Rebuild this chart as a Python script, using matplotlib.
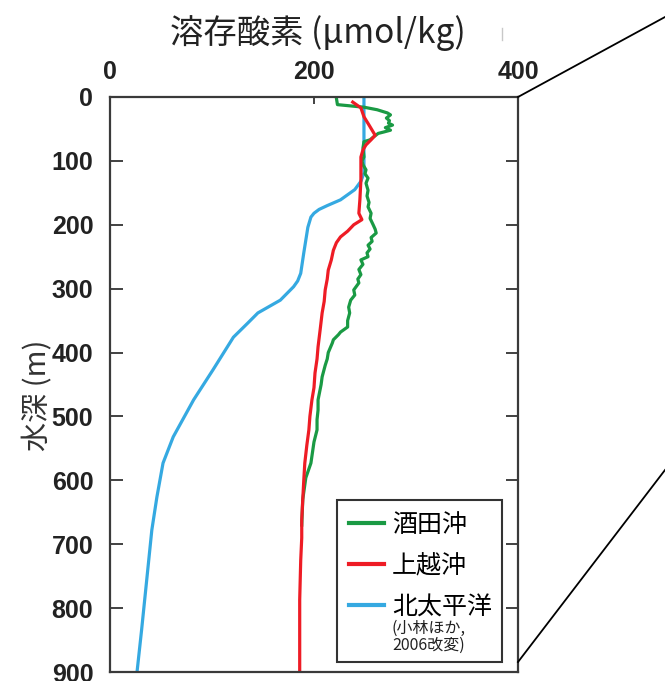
import matplotlib
matplotlib.use("Agg")
import matplotlib.pyplot as plt
from matplotlib.lines import Line2D
from matplotlib.patches import Rectangle

plt.rcParams['font.family'] = ['Noto Sans CJK JP', 'DejaVu Sans']

# Dissolved oxygen profiles: (oxygen µmol/kg, depth m)
sakata_o2 = [222, 222, 223, 236, 249, 262, 272, 275, 271, 274, 273, 277, 270, 275, 268, 263,
             258, 255, 249, 248, 249, 247, 248, 251, 250, 253, 251, 253, 252, 254, 253, 256,
             255, 258, 260, 261, 256, 257, 253, 255, 252, 253, 246, 248, 244, 246, 243, 244,
             239, 240, 236, 234, 235, 233, 233, 226, 224, 219, 218, 214, 213, 211, 208, 207,
             204, 204, 203, 203, 200, 197, 192, 189, 188]
sakata_depth = [0, 2, 12, 14, 16, 20, 25, 28, 33, 37, 41, 44, 48, 52, 55, 57,
                63, 67, 70, 80, 94, 100, 106, 114, 120, 127, 135, 146, 155, 165, 172, 182,
                190, 200, 207, 213, 220, 226, 232, 238, 244, 250, 255, 262, 270, 278, 285, 291,
                302, 310, 318, 329, 338, 350, 360, 368, 372, 380, 385, 400, 410, 420, 438, 450,
                474, 490, 505, 521, 540, 573, 596, 630, 670]

joetsu_o2 = [238, 246, 249, 254, 260, 256, 251, 248, 246, 246, 246, 245, 244, 247, 239, 233,
             226, 222, 219, 217, 214, 213, 211, 210, 208, 206, 204, 203, 201, 200, 198, 196,
             195, 193, 191, 190, 189, 188, 188, 187, 186, 186]
joetsu_depth = [8, 17, 31, 44, 60, 67, 75, 83, 94, 110, 130, 161, 182, 192, 200, 210,
                219, 228, 240, 255, 271, 285, 302, 320, 338, 365, 391, 410, 432, 455, 474, 500,
                521, 545, 573, 600, 630, 662, 690, 725, 787, 900]

pacific_o2 = [249, 249, 246, 240, 226, 213, 205, 200, 197, 195.5, 194, 190, 187, 184, 180, 167,
              145, 135, 121, 101, 82, 62, 52, 46, 41, 36, 31, 26.5]
pacific_depth = [0, 119, 132, 145, 161, 170, 176, 182, 188, 196, 204, 244, 276, 288, 297, 318,
                 338, 354, 376, 427, 474, 532, 573, 626, 678, 756, 834, 900]

series_labels = ['酒田沖', '上越沖', '北太平洋']
series_colors = ['#1a9a44', '#ee1c25', '#35a9e1']
source_note = '(小林ほか,\n2006改変)'

x_ticks = [0, 200, 400]
y_ticks = [0, 100, 200, 300, 400, 500, 600, 700, 800, 900]

fig = plt.figure(figsize=(6.65, 6.81), dpi=100)
ax = fig.add_axes([0.1654, 0.0132, 0.6135, 0.8444])

lw = 2.3
ax.plot(pacific_o2, pacific_depth, color=series_colors[2], lw=lw, solid_capstyle='butt',
        solid_joinstyle='round')
ax.plot(sakata_o2, sakata_depth, color=series_colors[0], lw=lw, solid_joinstyle='round')
ax.plot(joetsu_o2, joetsu_depth, color=series_colors[1], lw=lw, solid_joinstyle='round')

ax.set_xlim(0, 400)
ax.set_ylim(900, 0)

tick_font = dict(family='Liberation Sans', weight='bold', size=18)
ax.xaxis.tick_top()
ax.set_xticks(x_ticks)
ax.set_xticklabels([str(v) for v in x_ticks], fontdict=tick_font, color='#222222')
ax.tick_params(axis='x', direction='in', length=5, width=1.3, color='#333333', pad=9)
ax.set_yticks(y_ticks)
ax.set_yticklabels([str(v) for v in y_ticks], fontdict=tick_font, color='#222222')
ax.tick_params(axis='y', direction='in', length=9, width=1.3, color='#333333',
               left=True, right=True, labelright=False, pad=12)

for sp in ax.spines.values():
    sp.set_color('#3a3a3a')
    sp.set_linewidth(1.6)

# legend box with entries and the source note
ax.add_patch(Rectangle((0.5564, 0.0174), 0.4044, 0.2817, transform=ax.transAxes,
                       facecolor='white', edgecolor='#333333', lw=1.5, zorder=4))
handles = [Line2D([], [], color=c, lw=3) for c in series_colors]
leg = ax.legend(handles, series_labels, loc='upper left',
                bbox_to_anchor=(0.5588, 0.2974), borderaxespad=0, frameon=False,
                fontsize=18, handlelength=1.4, handletextpad=0.3,
                labelspacing=0.6, borderpad=0.45)
leg.set_zorder(5)
ax.text(0.6912, 0.0609, source_note, transform=ax.transAxes, ha='left', va='center',
        fontsize=11.5, linespacing=1.05, color='#222222', zorder=6)

fig.text(318 / 665, 1 - 33 / 681, '溶存酸素 (μmol/kg)', ha='center', va='center',
         fontsize=24, color='#222222')
fig.text(38 / 665, 1 - 395 / 681, '水深 (m)', ha='center', va='center', rotation=90,
         fontsize=21, color='#333333')

# zoom-out guide lines to the right of the panel
fig.add_artist(Line2D([518 / 665, 1.0], [1 - 97 / 681, 1 - 17 / 681],
                      transform=fig.transFigure, color='black', lw=1.3))
fig.add_artist(Line2D([518 / 665, 1.0], [1 - 662 / 681, 1 - 470 / 681],
                      transform=fig.transFigure, color='black', lw=1.3))
fig.add_artist(Line2D([502 / 665, 502 / 665], [1 - 28 / 681, 1 - 40 / 681],
                      transform=fig.transFigure, color='#c8c8c8', lw=1.0))

fig.savefig('out.png', dpi=100)
